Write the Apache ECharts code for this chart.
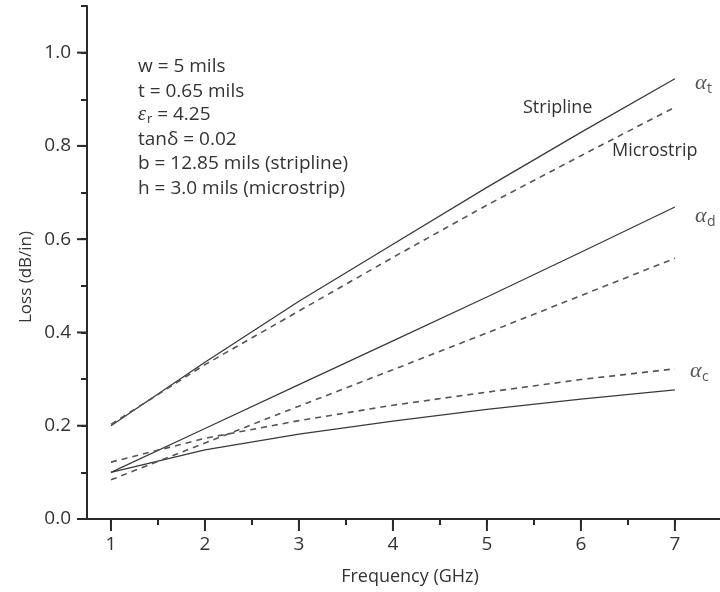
<!DOCTYPE html>
<html>
<head>
<meta charset="utf-8">
<script src="https://cdn.jsdelivr.net/npm/echarts@6/dist/echarts.min.js"></script>
<style>
html,body{margin:0;padding:0;background:#fff;}
#c{width:720px;height:592px;}
</style>
</head>
<body>
<div id="c"></div>
<script>
// ---- data ----
var freq = [1, 2, 3, 4, 5, 6, 7];
var stripTotal = [0.200, 0.336, 0.467, 0.589, 0.711, 0.829, 0.944];
var stripDiel  = [0.100, 0.194, 0.288, 0.382, 0.476, 0.572, 0.669];
var stripCond  = [0.100, 0.148, 0.182, 0.210, 0.235, 0.257, 0.277];
var microTotal = [0.203, 0.331, 0.446, 0.561, 0.673, 0.779, 0.883];
var microDiel  = [0.084, 0.163, 0.242, 0.320, 0.399, 0.479, 0.559];
var microCond  = [0.122, 0.173, 0.211, 0.244, 0.272, 0.299, 0.322];
var xMajor = [1, 2, 3, 4, 5, 6, 7];
var xMinor = [1.5, 2.5, 3.5, 4.5, 5.5, 6.5];
var yMajor = [0, 0.2, 0.4, 0.6, 0.8, 1.0];
var yMinor = [0.1, 0.3, 0.5, 0.7, 0.9, 1.1];
var paramLines = ['w = 5 mils', 't = 0.65 mils', 'EPS', 'tan\u03b4 = 0.02', 'b = 12.85 mils (stripline)', 'h = 3.0 mils (microstrip)'];

var X_MIN = 0.745, X_MAX = 7.48, Y_MIN = 0, Y_MAX = 1.1;

function pairs(v) { return freq.map(function (f, i) { return [f, v[i]]; }); }
function sortNum(a) { return a.slice().sort(function (p, q) { return p - q; }); }

var FONT = 'Open Sans';
var TXT = '#333';
var AX = '#2a2a2a';

function lineSeries(name, vals, dashed) {
  return {
    name: name, type: 'line', data: pairs(vals),
    showSymbol: false, smooth: false,
    lineStyle: { color: dashed ? '#555' : '#3a3a3a', width: dashed ? 1.6 : 1.3, type: dashed ? [6, 5] : 'solid' },
    emphasis: { disabled: true }, silent: true
  };
}

// longer major ticks, positioned through the axis scales (anchored inside the grid)
var majorX = xMajor.map(function (v) { return [v, Y_MAX / 2]; });
var majorY = yMajor.map(function (v) { return [(X_MIN + X_MAX) / 2, v]; });
function majorTickSeries(data, vertical) {
  return {
    type: 'custom', data: data, clip: false, silent: true,
    renderItem: function (params, api) {
      var p = vertical ? api.coord([api.value(0), Y_MIN]) : api.coord([X_MIN, api.value(1)]);
      var shape = vertical
        ? { x1: p[0], y1: p[1], x2: p[0], y2: p[1] + 12 }
        : { x1: p[0] - 10, y1: p[1], x2: p[0], y2: p[1] };
      return { type: 'line', shape: shape, style: { stroke: AX, lineWidth: 2 } };
    }
  };
}

var graphics = [];
var lineY = [70, 95, 118, 143, 167, 192];
paramLines.forEach(function (t, i) {
  if (t === 'EPS') {
    graphics.push({ type: 'text', left: 138, top: lineY[i] - 13,
      style: { text: '{e|\u03b5}{s|r}{n| = 4.25}', rich: {
        e: { fontFamily: 'Liberation Serif', fontStyle: 'italic', fontSize: 20, fill: TXT },
        s: { fontFamily: FONT, fontSize: 13, fill: TXT, padding: [9, 0, 0, 1] },
        n: { fontFamily: FONT, fontSize: 19, fill: TXT }
      } } });
  } else {
    graphics.push({ type: 'text', left: 138, top: lineY[i] - 13,
      style: { text: t, fontFamily: FONT, fontSize: 19, fill: TXT } });
  }
});
graphics.push({ type: 'text', left: 523, top: 99, style: { text: 'Stripline', fontFamily: FONT, fontSize: 18, fill: TXT } });
graphics.push({ type: 'text', left: 612, top: 142, style: { text: 'Microstrip', fontFamily: FONT, fontSize: 18, fill: TXT } });
function alpha(x, y, sub) {
  graphics.push({ type: 'text', left: x, top: y - 14, style: { text: '\u03b1', fontFamily: 'Liberation Serif', fontStyle: 'italic', fontSize: 22, fill: '#555' } });
  graphics.push({ type: 'text', left: x + 12, top: y - 4, style: { text: sub, fontFamily: FONT, fontSize: 14, fill: '#555' } });
}
alpha(695, 86, 't');
alpha(695, 219, 'd');
alpha(690, 374, 'c');
graphics.push({ type: 'text', x: 410, y: 577, style: { text: 'Frequency (GHz)', fontFamily: FONT, fontSize: 18, fill: TXT, align: 'center', verticalAlign: 'middle' } });
graphics.push({ type: 'text', x: 26, y: 277, rotation: Math.PI / 2,
  style: { text: 'Loss (dB/in)', fontFamily: FONT, fontSize: 17, fill: TXT, align: 'center', verticalAlign: 'middle' } });

var chart = echarts.init(document.getElementById('c'), null, { renderer: 'canvas' });
chart.setOption({
  animation: false,
  backgroundColor: '#fff',
  grid: { left: 87, right: 0, top: 6, bottom: 73, containLabel: false },
  xAxis: { type: 'value', min: X_MIN, max: X_MAX, position: 'bottom',
    axisLine: { show: true, onZero: false, lineStyle: { color: AX, width: 2 } },
    axisTick: { show: true, customValues: sortNum(xMajor.concat(xMinor)), length: 6, lineStyle: { color: AX, width: 2 } },
    axisLabel: { customValues: xMajor, margin: 16, fontFamily: FONT, fontSize: 19, color: TXT },
    splitLine: { show: false } },
  yAxis: { type: 'value', min: Y_MIN, max: Y_MAX, position: 'left',
    axisLine: { show: true, onZero: false, lineStyle: { color: AX, width: 2 } },
    axisTick: { show: true, customValues: sortNum(yMajor.concat(yMinor)), length: 6, lineStyle: { color: AX, width: 2 } },
    axisLabel: { customValues: yMajor, margin: 16, fontFamily: FONT, fontSize: 19, color: TXT,
      formatter: function (v) { return v.toFixed(1); } },
    splitLine: { show: false } },
  series: [
    lineSeries('Stripline αt', stripTotal, false),
    lineSeries('Stripline αd', stripDiel, false),
    lineSeries('Stripline αc', stripCond, false),
    lineSeries('Microstrip αt', microTotal, true),
    lineSeries('Microstrip αd', microDiel, true),
    lineSeries('Microstrip αc', microCond, true),
    majorTickSeries(majorX, true),
    majorTickSeries(majorY, false)
  ],
  graphic: graphics
});
</script>
</body>
</html>
